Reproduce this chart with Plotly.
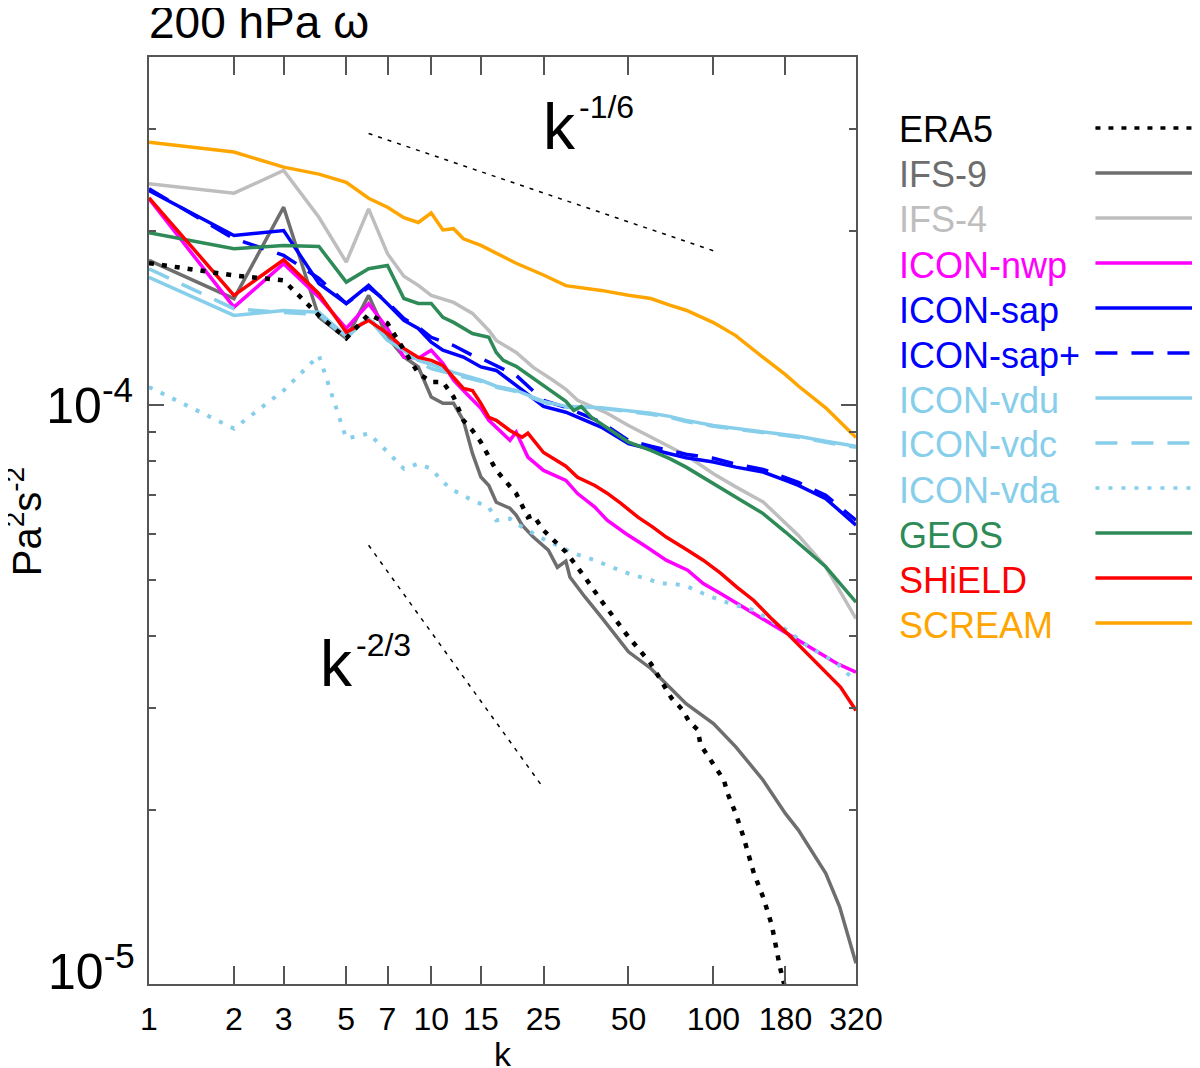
import plotly.graph_objects as go

# wavenumbers k and spectra (units of 1e-4 Pa^2 s^-2)
era5_k = [1, 2, 3, 4, 5, 6, 7, 8, 9, 10, 11, 12, 13, 14, 15, 17, 20, 22, 23, 25, 30, 35, 40, 50, 60,
          71, 78, 82, 88, 90, 96, 103, 109, 112, 120, 128, 139, 150, 161, 172, 177, 182]
era5_v = [1.761, 1.677, 1.644, 1.430, 1.306, 1.436, 1.386, 1.245, 1.136, 1.097, 1.097, 1.034, 0.942,
          0.905, 0.864, 0.772, 0.704, 0.641, 0.646, 0.608, 0.558, 0.505, 0.460, 0.398, 0.358, 0.312,
          0.297, 0.284, 0.275, 0.259, 0.247, 0.234, 0.225, 0.214, 0.197, 0.179, 0.1555, 0.1413,
          0.1264, 0.1070, 0.1016, 0.0957]

ifs9_k = [1, 2, 3, 4, 5, 6, 7, 8, 9, 10, 11, 12, 13, 14, 15, 16, 17, 19, 20, 21, 23, 26, 28, 30, 31,
          35, 40, 50, 60, 70, 80, 100, 120, 150, 180, 200, 250, 280, 320]
ifs9_v = [1.780, 1.529, 2.200, 1.420, 1.306, 1.549, 1.311, 1.212, 1.165, 1.034, 1.008, 1.008, 0.942,
          0.826, 0.752, 0.727, 0.680, 0.664, 0.646, 0.621, 0.592, 0.562, 0.525, 0.538, 0.505, 0.467,
          0.431, 0.375, 0.351, 0.326, 0.305, 0.282, 0.257, 0.225, 0.197, 0.1845, 0.1553, 0.136, 0.1086]

ifs4_k = [1, 2, 3, 4, 5, 6, 7, 8, 9, 10, 12, 14, 16, 17, 20, 23, 27, 30, 33, 42, 50, 60, 70, 80, 100,
          120, 150, 180, 200, 250, 320]
ifs4_v = [2.415, 2.326, 2.546, 2.114, 1.768, 2.186, 1.828, 1.671, 1.612, 1.549, 1.506, 1.442, 1.347,
          1.295, 1.234, 1.163, 1.105, 1.066, 1.020, 0.969, 0.923, 0.882, 0.847, 0.820, 0.762, 0.723,
          0.681, 0.625, 0.596, 0.526, 0.428]

nwp_k = [1, 2, 3, 4, 5, 6, 7, 8, 9, 10, 11, 12, 13, 15, 16, 19, 20, 22, 25, 30, 33, 38, 42, 49, 58,
         68, 81, 92, 106, 121, 139, 159, 182, 209, 239, 274, 320]
nwp_v = [2.275, 1.478, 1.757, 1.538, 1.358, 1.498, 1.358, 1.212, 1.206, 1.245, 1.182, 1.105, 1.061,
         0.988, 0.942, 0.870, 0.899, 0.814, 0.772, 0.742, 0.704, 0.667, 0.633, 0.600, 0.569, 0.540,
         0.519, 0.492, 0.473, 0.455, 0.437, 0.420, 0.403, 0.388, 0.3725, 0.358, 0.3457]

sap_k = [1, 2, 3, 4, 5, 6, 7, 8, 9, 10, 11, 13, 15, 17, 20, 25, 30, 40, 50, 60, 70, 80, 100, 120,
         150, 180, 200, 250, 320]
sap_v = [2.351, 1.966, 2.005, 1.624, 1.500, 1.612, 1.498, 1.402, 1.358, 1.286, 1.245, 1.212, 1.165,
         1.149, 1.083, 0.996, 0.973, 0.917, 0.859, 0.839, 0.825, 0.812, 0.798, 0.782, 0.767, 0.742,
         0.727, 0.690, 0.621]

sapp_k = [1, 2, 3, 4, 5, 6, 7, 8, 9, 10, 12, 14, 15, 20, 25, 30, 40, 50, 60, 70, 80, 100, 120, 150,
          180, 200, 250, 320]
sapp_v = [2.367, 1.941, 1.816, 1.657, 1.500, 1.599, 1.508, 1.413, 1.364, 1.311, 1.269, 1.220, 1.206,
          1.127, 1.020, 0.992, 0.935, 0.870, 0.850, 0.836, 0.823, 0.810, 0.791, 0.775, 0.751, 0.736,
          0.699, 0.633]

vdu_k = [1, 2, 3, 4, 5, 6, 7, 8, 9, 10, 12, 15, 17, 20, 25, 30, 40, 50, 60, 70, 80, 100, 120, 150,
         180, 200, 250, 320]
vdu_v = [1.665, 1.430, 1.459, 1.449, 1.316, 1.413, 1.295, 1.245, 1.196, 1.177, 1.140, 1.105, 1.079,
         1.061, 1.016, 0.996, 0.990, 0.978, 0.969, 0.957, 0.942, 0.923, 0.913, 0.900, 0.891, 0.884,
         0.867, 0.850]

vdc_k = [1, 2, 3, 4, 5, 6, 7, 8, 9, 10, 12, 15, 17, 20, 25, 30, 40, 50, 60, 70, 80, 100, 120, 150,
         180, 200, 250, 320]
vdc_v = [1.722, 1.469, 1.447, 1.436, 1.306, 1.424, 1.295, 1.245, 1.187, 1.158, 1.131, 1.100, 1.074,
         1.057, 1.012, 0.992, 0.988, 0.976, 0.965, 0.953, 0.938, 0.920, 0.909, 0.898, 0.887, 0.881,
         0.863, 0.846]

vda_k = [1, 2, 3, 4, 5, 6, 7, 8, 9, 10, 11, 12, 14, 16, 17, 19, 21, 23, 26, 29, 31, 35, 38, 42, 47,
         52, 58, 65, 72, 81, 92, 106, 121, 139, 159, 182, 209, 239, 274, 320]
vda_v = [1.076, 0.9115, 1.061, 1.220, 0.876, 0.894, 0.831, 0.777, 0.793, 0.777, 0.737, 0.713, 0.685,
         0.667, 0.633, 0.637, 0.616, 0.600, 0.581, 0.569, 0.558, 0.547, 0.540, 0.529, 0.519, 0.5085,
         0.502, 0.492, 0.492, 0.486, 0.473, 0.460, 0.451, 0.4425, 0.425, 0.4088, 0.388, 0.3725,
         0.358, 0.333]

geos_k = [1, 2, 3, 4, 5, 6, 7, 8, 9, 10, 11, 12, 14, 16, 17, 18, 20, 25, 30, 32, 34, 37, 40, 50, 60,
          70, 80, 100, 120, 150, 180, 200, 250, 320]
geos_v = [1.988, 1.865, 1.889, 1.882, 1.633, 1.722, 1.745, 1.530, 1.500, 1.500, 1.419, 1.391, 1.331,
          1.311, 1.234, 1.196, 1.168, 1.083, 1.016, 0.980, 0.996, 0.953, 0.930, 0.864, 0.836, 0.809,
          0.782, 0.732, 0.694, 0.650, 0.604, 0.577, 0.526, 0.457]

shield_k = [1, 2, 3, 4, 5, 6, 7, 8, 9, 10, 11, 12, 13, 14, 15, 16, 17, 19, 21, 22, 25, 30, 33, 38,
            42, 47, 54, 61, 68, 81, 92, 106, 121, 139, 159, 182, 209, 239, 282, 320]
shield_v = [2.284, 1.549, 1.785, 1.559, 1.338, 1.402, 1.331, 1.254, 1.210, 1.196, 1.172, 1.119, 1.070,
            1.061, 1.008, 0.953, 0.942, 0.905, 0.881, 0.895, 0.829, 0.785, 0.751, 0.727, 0.705,
            0.677, 0.641, 0.616, 0.592, 0.562, 0.540, 0.513, 0.485, 0.460, 0.430, 0.404, 0.3775,
            0.3527, 0.326, 0.297]

scream_k = [1, 2, 3, 4, 5, 6, 7, 8, 9, 10, 11, 12, 13, 15, 20, 25, 30, 40, 50, 60, 70, 80, 100, 120,
            150, 180, 200, 250, 320]
scream_v = [2.85, 2.74, 2.58, 2.51, 2.43, 2.28, 2.20, 2.11, 2.07, 2.15, 2.01, 2.02, 1.94, 1.89, 1.76,
            1.68, 1.61, 1.58, 1.55, 1.53, 1.49, 1.46, 1.39, 1.32, 1.21, 1.13, 1.08, 0.99, 0.88]

# reference slopes, end points only
slope16_k = [6, 100]
slope16_v = [2.95, 1.85]
slope23_k = [6, 25]
slope23_v = [0.573, 0.218]

x_ticks = [1, 2, 3, 5, 7, 10, 15, 25, 50, 100, 180, 320]

FONT = "Liberation Sans, Arial, Helvetica, sans-serif"
AXIS_COLOR = "#555555"

# name, k, values, colour, dash, width
models = [
    ("ERA5", era5_k, era5_v, "black", "5px,8px", 4.5),
    ("IFS-9", ifs9_k, ifs9_v, "#6e6e6e", "solid", 3.5),
    ("IFS-4", ifs4_k, ifs4_v, "#bebebe", "solid", 3.5),
    ("ICON-nwp", nwp_k, nwp_v, "#ff00ff", "solid", 3.5),
    ("ICON-sap", sap_k, sap_v, "#0000ff", "solid", 3.5),
    ("ICON-sap+", sapp_k, sapp_v, "#0000ff", "22px,14px", 3.5),
    ("ICON-vdu", vdu_k, vdu_v, "#87ceeb", "solid", 3.5),
    ("ICON-vdc", vdc_k, vdc_v, "#87ceeb", "22px,14px", 3.5),
    ("ICON-vda", vda_k, vda_v, "#87ceeb", "4px,9px", 4),
    ("GEOS", geos_k, geos_v, "#2e8b57", "solid", 3.5),
    ("SHiELD", shield_k, shield_v, "#ff0000", "solid", 3.5),
    ("SCREAM", scream_k, scream_v, "#ffa500", "solid", 3.5),
]

# the page body has an 8px margin; work in screenshot pixels and shift the figure back
OFF = 8
W, H = 1200 - OFF, 1068 - OFF
# plot box in screenshot pixels
L, R, T, B = 148.7, 855.6, 57, 984


def px(x):
    return (x - L) / (R - L)


def py(y):
    return (B - y) / (B - T)


fig = go.Figure()

for name, k, v, color, dash, width in models[1:] + models[:1]:
    fig.add_trace(go.Scatter(
        x=k, y=[val * 1e-4 for val in v],
        mode="lines", name=name,
        line=dict(color=color, width=width, dash=dash),
        showlegend=False,
    ))

for k, v in [(slope16_k, slope16_v), (slope23_k, slope23_v)]:
    fig.add_trace(go.Scatter(
        x=k, y=[val * 1e-4 for val in v], mode="lines",
        line=dict(color="black", width=1.5, dash="4px,6px"),
        showlegend=False,
    ))

# hand-made legend on the right: text, then line sample
shapes = []
annotations = []
for i, (name, k, v, color, dash, width) in enumerate(models):
    yc = 130 + 45 * i
    annotations.append(dict(
        x=px(897), y=py(yc), xref="paper", yref="paper", xanchor="left", yanchor="middle",
        text=name, showarrow=False, font=dict(family=FONT, size=36, color=color),
    ))
    shapes.append(dict(
        type="line", xref="paper", yref="paper", x0=px(1095), x1=px(1197), y0=py(yc - 2),
        y1=py(yc - 2), line=dict(color=color, width=min(width, 3.5), dash=dash),
    ))

extra = [
    dict(x=px(147), y=py(22), text="200 hPa ω", xanchor="left", yanchor="middle",
         font=dict(size=46)),
    dict(x=px(541), y=py(127), text="k", xanchor="left", yanchor="middle", font=dict(size=64)),
    dict(x=px(577), y=py(107), text="-1/6", xanchor="left", yanchor="middle", font=dict(size=32)),
    dict(x=px(318), y=py(664), text="k", xanchor="left", yanchor="middle", font=dict(size=64)),
    dict(x=px(354), y=py(645), text="-2/3", xanchor="left", yanchor="middle", font=dict(size=32)),
    dict(x=px(503), y=py(1054), text="k", xanchor="center", yanchor="middle", font=dict(size=34)),
    dict(x=px(24), y=py(522), text="Pa<sup>2</sup>s<sup>-2</sup>", textangle=-90,
         xanchor="center", yanchor="middle", font=dict(size=40)),
    dict(x=px(137), y=py(968), text="10<sup>-5</sup>", xanchor="right", yanchor="middle",
         font=dict(size=50)),
]
for a in extra:
    a.update(xref="paper", yref="paper", showarrow=False)
    a["font"].update(family=FONT, color="black")
annotations += extra

fig.update_xaxes(
    type="log", range=[0, 2.50515],
    tickvals=x_ticks, ticktext=[str(t) for t in x_ticks],
    ticks="inside", ticklen=18, tickwidth=1.5, tickcolor=AXIS_COLOR,
    showline=True, linecolor=AXIS_COLOR, linewidth=2, mirror="ticks",
    showgrid=False, zeroline=False, ticklabelstandoff=6,
    tickfont=dict(family=FONT, size=32, color="black"),
)
fig.update_yaxes(
    type="log", range=[-5, -3.398],
    tickvals=[1e-5, 1e-4], ticktext=["", "10<sup>-4</sup>"],
    ticks="inside", ticklen=15, tickwidth=1.5, tickcolor=AXIS_COLOR,
    minor=dict(tickvals=[2e-5, 3e-5, 4e-5, 5e-5, 6e-5, 7e-5, 8e-5, 9e-5, 2e-4, 3e-4],
               ticks="inside", ticklen=7, tickwidth=1.5, tickcolor=AXIS_COLOR, showgrid=False),
    showline=True, linecolor=AXIS_COLOR, linewidth=2, mirror="ticks",
    showgrid=False, zeroline=False, ticklabelstandoff=4,
    tickfont=dict(family=FONT, size=50, color="black"),
)

fig.update_layout(
    width=W, height=H,
    margin=dict(l=L - OFF, r=W - (R - OFF), t=T - OFF, b=H - (B - OFF), autoexpand=False),
    paper_bgcolor="white", plot_bgcolor="white",
    font=dict(family=FONT, color="black"),
    shapes=shapes, annotations=annotations,
    showlegend=False,
)

fig.write_html("out.html")
